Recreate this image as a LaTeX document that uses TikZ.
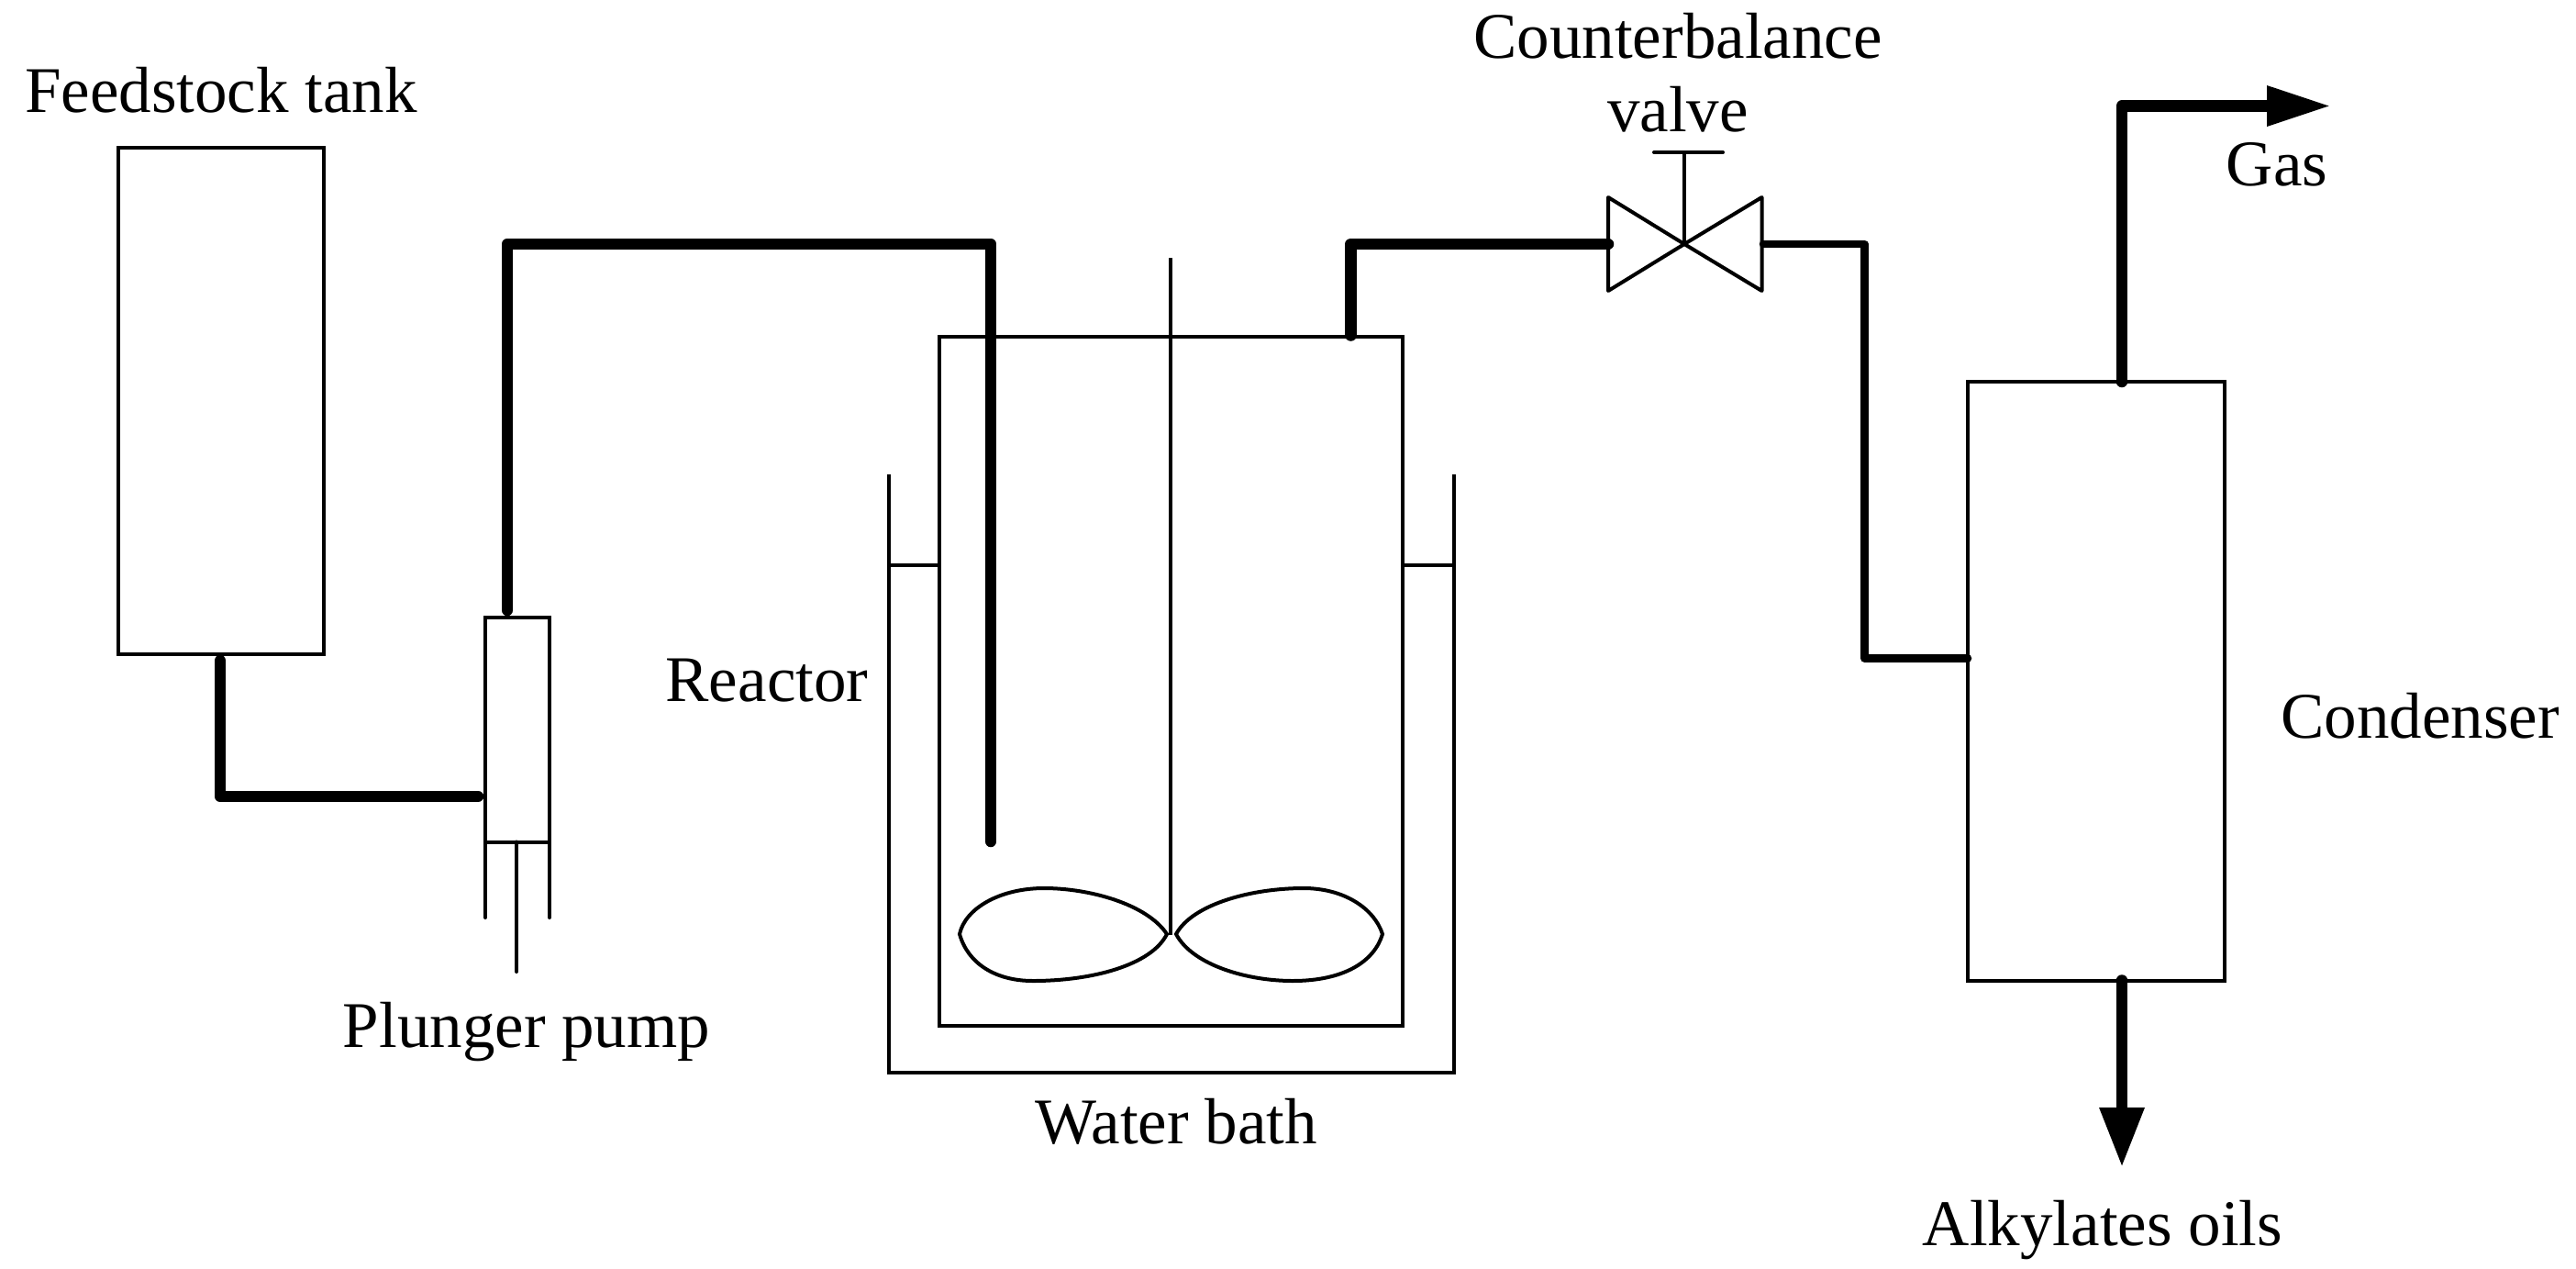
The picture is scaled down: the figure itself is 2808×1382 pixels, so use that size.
\documentclass[tikz,border=0pt]{standalone}
\usepackage{fontspec}
\setmainfont{Liberation Serif}
\usetikzlibrary{arrows.meta}
\tikzset{
  thinline/.style={line width=4pt,line join=miter},
  box/.style={draw,line width=4pt,rectangle,inner sep=0pt,outer sep=0pt},
  pipeA/.style={line width=12.5pt,line join=round,line cap=round},
  pipeB/.style={line width=8.5pt,line join=round,line cap=round},
  outflow/.style={line width=12.5pt,line join=round},
  lbl/.style={inner sep=0pt,outer sep=0pt,anchor=base,font=\fontsize{71}{80}\selectfont,align=center}
}
\begin{document}
\begin{tikzpicture}[x=1pt,y=-1pt]
\useasboundingbox (0,0) rectangle (2808,1382);
% boxes
\node[box,minimum width=224pt,minimum height=552pt] (tank) at (240.5,437) {};
\node[box,minimum width=70pt,minimum height=245pt] (pump) at (564,795) {};
\node[box,minimum width=280pt,minimum height=653pt] (cond) at (2285,742.5) {};
\node[box,minimum width=505pt,minimum height=751pt] (reactor) at (1276.5,742.5) {};
% pump legs and plunger
\coordinate (legL) at (529,1000);
\coordinate (legR) at (599,1000);
\coordinate (plunger) at (563,1059);
\draw[thinline,line cap=round] (pump.south west) -- (legL);
\draw[thinline,line cap=round] (pump.south east) -- (legR);
\draw[thinline,line cap=round] (pump.south -| plunger) -- (plunger);
% water bath
\coordinate (bathTL) at (969,517);
\coordinate (bathBL) at (969,1169);
\coordinate (bathBR) at (1585,1169);
\coordinate (bathTR) at (1585,517);
\draw[thinline] (bathTL) -- (bathBL) -- (bathBR) -- (bathTR);
\coordinate (levelL) at (969,616);
\coordinate (levelR) at (1585,616);
\draw[thinline] (levelL) -- (levelL -| reactor.west);
\draw[thinline] (levelR -| reactor.east) -- (levelR);
% stirrer
\coordinate (shaftT) at (1276,281);
\coordinate (shaftB) at (1276,1019);
\draw[thinline] (shaftT) -- (shaftB);
\draw[thinline] (1046,1018) .. controls (1052,990) and (1090,968) .. (1138,968)
  .. controls (1187,968) and (1250,985) .. (1272,1018)
  .. controls (1255,1052) and (1190,1069) .. (1126,1069)
  .. controls (1085,1069) and (1055,1050) .. (1046,1018) -- cycle;
\draw[thinline] (1507,1018) .. controls (1498,990) and (1465,968) .. (1421,968)
  .. controls (1365,968) and (1300,985) .. (1282,1018)
  .. controls (1300,1052) and (1360,1069) .. (1409,1069)
  .. controls (1465,1069) and (1498,1048) .. (1507,1018) -- cycle;
% valve
\coordinate (vC) at (1836,266);
\coordinate (vTL) at (1753,215);
\coordinate (vBL) at (1753,317);
\coordinate (vTR) at (1920.5,215);
\coordinate (vBR) at (1920.5,317);
\coordinate (vS) at (1836,166);
\coordinate (barL) at (1803,166);
\coordinate (barR) at (1878,166);
\draw[thinline,line join=round] (vC) -- (vTL) -- (vBL) -- cycle;
\draw[thinline,line join=round] (vC) -- (vTR) -- (vBR) -- cycle;
\draw[thinline] (vC) -- (vS);
\draw[thinline,line cap=round] (barL) -- (barR);
% pipes
\coordinate (p1a) at (240,720);
\coordinate (p1b) at (240,868);
\coordinate (p1c) at (521,868);
\draw[pipeA] (p1a) -- (p1b) -- (p1c);
\coordinate (p2a) at (553,665);
\coordinate (p2b) at (553,266);
\coordinate (p2c) at (1080,266);
\coordinate (p2d) at (1080,917);
\draw[pipeA] (p2a) -- (p2b) -- (p2c) -- (p2d);
\coordinate (p3a) at (1472.5,365.5);
\coordinate (p3b) at (1472.5,266);
\coordinate (p3c) at (1753,266);
\draw[pipeA] (p3a) -- (p3b) -- (p3c);
\coordinate (p4a) at (1922,266);
\coordinate (p4b) at (2032.5,266);
\coordinate (p4c) at (2032.5,717.5);
\coordinate (p4d) at (2145,717.5);
\draw[pipeB] (p4a) -- (p4b) -- (p4c) -- (p4d);
\coordinate (p5a) at (2313,416);
\coordinate (p5b) at (2313,115.5);
\coordinate (p5c) at (2541,115.5);
\draw[outflow,-{Triangle[length=70pt,width=41pt]}] (p5a) -- (p5b) -- (p5c);
\fill (p5a) circle (6.25pt);
\coordinate (p6a) at (2313,1068.5);
\coordinate (p6b) at (2313,1272);
\draw[outflow,-{Triangle[length=65pt,width=46pt]}] (p6a) -- (p6b);
\fill (p6a) circle (6.25pt);
% labels
\node[lbl] (l1) at (241,122) {Feedstock tank};
\node[lbl] (l2) at (1829,63) {Counterbalance};
\node[lbl] (l3) at (1829,143) {valve};
\node[lbl] (l4) at (2482,202) {Gas};
\node[lbl] (l5) at (836,764) {Reactor};
\node[lbl] (l6) at (2638,804) {Condenser};
\node[lbl] (l7) at (574,1141) {Plunger pump};
\node[lbl] (l8) at (1282,1246) {Water bath};
\node[lbl] (l9) at (2292,1357) {Alkylates oils};
\end{tikzpicture}
\end{document}
